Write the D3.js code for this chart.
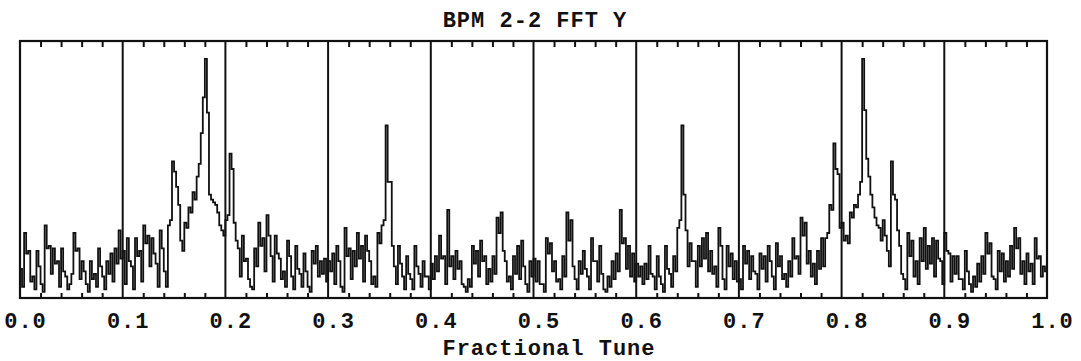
<!DOCTYPE html>
<html>
<head>
<meta charset="utf-8">
<script src="https://cdn.jsdelivr.net/npm/d3@7/dist/d3.min.js"></script>
<style>
  body { margin: 0; background: #fff; }
  text { font-family: "Courier New", "Liberation Mono", monospace; font-weight: bold; fill: #111; }
</style>
</head>
<body>
<svg id="chart" width="1081" height="361"></svg>
<script>
(function () {
  'use strict';

  var title = 'BPM 2-2 FFT Y',
    xTitle = 'Fractional Tune',
    tickLabels = [0.0, 0.1, 0.2, 0.3, 0.4, 0.5, 0.6, 0.7, 0.8, 0.9, 1.0],
    minorTicks = [0.02, 0.04, 0.06, 0.08, 0.12, 0.14, 0.16, 0.18, 0.22, 0.24, 0.26, 0.28,
      0.32, 0.34, 0.36, 0.38, 0.42, 0.44, 0.46, 0.48, 0.52, 0.54, 0.56, 0.58,
      0.62, 0.64, 0.66, 0.68, 0.72, 0.74, 0.76, 0.78, 0.82, 0.84, 0.86, 0.88,
      0.92, 0.94, 0.96, 0.98];

  // fft amplitude per bin over tune 0..1 (100 = top of frame)
  var amplitude = [
    11, 4, 25, 17, 18, 6, 8, 3, 18, 12, 5, 2, 28, 19, 20, 9, 19, 13, 14, 4,
    19, 10, 8, 3, 5, 9, 25, 18, 19, 7, 14, 10, 5, 2, 14, 7, 9, 4, 19, 12,
    8, 3, 14, 9, 17, 6, 19, 13, 26, 15, 18, 5, 23, 14, 12, 3, 23, 16, 18, 6,
    28, 21, 24, 12, 23, 17, 13, 4, 26, 19, 10, 4, 28, 30, 53, 49, 43, 36, 22, 18,
    29, 27, 35, 33, 41, 38, 47, 52, 64, 78, 93, 72, 40, 38, 37, 36, 33, 28, 26, 24,
    30, 32, 56, 50, 29, 22, 19, 8, 24, 14, 15, 7, 4, 3, 19, 12, 29, 20, 23, 10,
    32, 24, 16, 6, 24, 17, 15, 7, 10, 4, 22, 16, 8, 3, 20, 11, 9, 4, 17, 10,
    4, 2, 18, 13, 20, 8, 14, 9, 15, 6, 14, 10, 17, 5, 20, 14, 4, 2, 27, 16,
    19, 7, 18, 12, 25, 15, 20, 6, 24, 18, 14, 5, 8, 4, 25, 21, 28, 30, 67, 45,
    45, 20, 12, 5, 20, 13, 8, 3, 16, 9, 7, 3, 20, 12, 9, 4, 14, 8, 8, 3,
    13, 7, 16, 10, 24, 15, 16, 5, 34, 12, 16, 7, 18, 11, 14, 5, 4, 2, 7, 4,
    20, 13, 18, 8, 22, 14, 16, 5, 11, 6, 16, 9, 31, 25, 33, 18, 14, 6, 8, 3,
    16, 9, 20, 7, 22, 12, 5, 2, 14, 8, 15, 6, 14, 5, 5, 2, 23, 17, 21, 10,
    14, 6, 7, 3, 16, 8, 33, 22, 30, 12, 7, 3, 14, 9, 18, 11, 8, 3, 23, 14,
    14, 6, 20, 9, 3, 2, 8, 4, 14, 7, 17, 10, 34, 21, 23, 11, 20, 8, 17, 6,
    13, 8, 12, 5, 13, 7, 20, 9, 8, 3, 16, 8, 5, 2, 20, 11, 9, 4, 16, 10,
    27, 30, 67, 40, 26, 12, 21, 14, 14, 4, 20, 12, 23, 15, 25, 10, 18, 9, 12, 4,
    27, 20, 7, 3, 20, 12, 17, 7, 14, 6, 7, 3, 20, 13, 18, 7, 16, 10, 9, 3,
    17, 11, 16, 6, 20, 14, 8, 3, 21, 12, 16, 7, 9, 4, 14, 8, 23, 15, 16, 9,
    31, 24, 29, 13, 18, 8, 13, 5, 18, 11, 23, 12, 23, 25, 36, 34, 60, 50, 48, 27,
    29, 22, 24, 21, 33, 31, 36, 35, 40, 45, 93, 73, 54, 47, 40, 35, 31, 28, 27, 22,
    30, 24, 18, 12, 53, 40, 38, 26, 20, 9, 7, 3, 25, 16, 22, 8, 14, 5, 23, 14,
    27, 11, 20, 13, 23, 8, 22, 15, 14, 5, 25, 18, 17, 6, 16, 9, 16, 7, 7, 3,
    18, 10, 5, 2, 8, 4, 13, 6, 16, 9, 25, 17, 21, 8, 7, 3, 18, 10, 17, 6,
    14, 8, 20, 11, 27, 19, 23, 9, 14, 5, 17, 10, 13, 5, 23, 15, 16, 8, 12, 10
  ];

  var svg = d3.select('#chart'),
    left = 20,
    right = 1047,
    top = 41,
    bottom = 298,
    n = amplitude.length;

  var x = d3.scaleLinear().domain([0, 1]).range([left, right]),
    y = d3.scaleLinear().domain([0, 100]).range([bottom - 1, top]);

  var points = amplitude.map(function (v, i) {
    return [i / n, v];
  });
  points.push([1, amplitude[n - 1]]);

  // spectrum as a step trace
  svg.append('path')
    .datum(points)
    .attr('fill', 'none')
    .attr('stroke', '#111')
    .attr('stroke-width', 1.8)
    .attr('d', d3.line()
      .curve(d3.curveStepAfter)
      .x(function (d) { return x(d[0]); })
      .y(function (d) { return y(d[1]); }));

  // vertical grid at each 0.1
  svg.append('g')
    .selectAll('line')
    .data(tickLabels.slice(1, -1))
    .enter().append('line')
    .attr('x1', function (d) { return x(d); })
    .attr('x2', function (d) { return x(d); })
    .attr('y1', top)
    .attr('y2', bottom)
    .attr('stroke', '#111')
    .attr('stroke-width', 2);

  // inward minor ticks top and bottom
  var topAxis = svg.append('g')
    .attr('transform', 'translate(0,' + top + ')')
    .call(d3.axisTop(x).tickValues(minorTicks).tickSize(-6).tickFormat(''));
  var botAxis = svg.append('g')
    .attr('transform', 'translate(0,' + bottom + ')')
    .call(d3.axisBottom(x).tickValues(minorTicks).tickSize(-5).tickFormat(''));
  [topAxis, botAxis].forEach(function (g) {
    g.select('.domain').remove();
    g.selectAll('line').attr('stroke', '#111').attr('stroke-width', 2);
  });

  // tick labels
  var labels = svg.append('g')
    .attr('transform', 'translate(5,' + bottom + ')')
    .call(d3.axisBottom(x).tickValues(tickLabels).tickSize(0).tickPadding(14)
      .tickFormat(d3.format('.1f')));
  labels.select('.domain').remove();
  labels.selectAll('text')
    .attr('font-size', 22)
    .attr('letter-spacing', 1)
    .attr('font-family', null);

  // frame
  svg.append('rect')
    .attr('x', left)
    .attr('y', top)
    .attr('width', right - left)
    .attr('height', bottom - top)
    .attr('fill', 'none')
    .attr('stroke', '#111')
    .attr('stroke-width', 2.2);

  svg.append('text')
    .attr('x', 535)
    .attr('y', 27)
    .attr('text-anchor', 'middle')
    .attr('font-size', 22)
    .attr('letter-spacing', 1)
    .text(title);

  svg.append('text')
    .attr('x', 549)
    .attr('y', 355)
    .attr('text-anchor', 'middle')
    .attr('font-size', 22)
    .attr('letter-spacing', 1)
    .text(xTitle);
})();
</script>
</body>
</html>
